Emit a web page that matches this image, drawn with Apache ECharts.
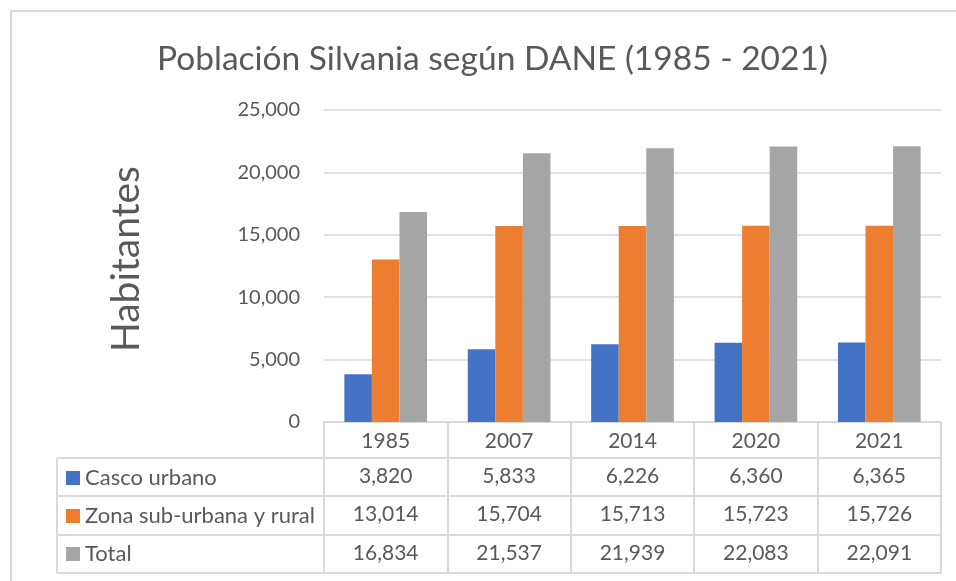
<!DOCTYPE html>
<html lang="es">
<head>
    <meta charset="UTF-8">
    <title>Población Silvania</title>
    <style>
        html, body { margin: 0; padding: 0; background: #fff; }
    </style>
</head>
<body>
<div id="main" style="width: 956px;height:581px;"></div>
<script src="https://cdn.jsdelivr.net/npm/echarts@6/dist/echarts.min.js"></script>
<script>
    var years = ['1985', '2007', '2014', '2020', '2021'];
    var casco = [3820, 5833, 6226, 6360, 6365];
    var rural = [13014, 15704, 15713, 15723, 15726];
    var total = [16834, 21537, 21939, 22083, 22091];
    var seriesNames = ['Casco urbano', 'Zona sub-urbana y rural', 'Total'];
    var colors = ['#4472C4', '#ED7D31', '#A5A5A5'];

    var FONT = 'Lato';
    var TXT = '#595959';
    var LINE = '#d9d9d9';

    // table geometry: grid bottom line sits at y=422, rows below it
    var gridTop = 110, axisY = 422, tableLeft = 57, plotLeft = 324, plotRight = 941;
    var rowOffsets = [0, 36, 74, 113, 151];

    function fmt(v) {
        return Number(v).toLocaleString('en-US');
    }

    var myChart = echarts.init(document.getElementById('main'));

    // one category axis per table row, offset below the plot
    var rows = [years, casco.map(fmt), rural.map(fmt), total.map(fmt), ['', '', '', '', '']];
    var xAxes = rows.map(function (labels, i) {
        var last = i === rows.length - 1;
        return {
            type: 'category',
            data: labels,
            position: 'bottom',
            offset: rowOffsets[i],
            axisLine: {show: true, lineStyle: {color: LINE, width: 2}},
            axisTick: {
                show: !last,
                interval: 0,
                length: last ? 0 : rowOffsets[i + 1] - rowOffsets[i],
                lineStyle: {color: LINE, width: 2}
            },
            axisLabel: {
                show: !last,
                interval: 0,
                margin: i === 0 ? 9 : 8,
                fontSize: 21,
                fontFamily: FONT,
                color: TXT
            },
            splitLine: {show: false}
        };
    });

    var lines = [];
    for (var r = 1; r < rowOffsets.length; r++) {
        lines.push({
            type: 'line',
            shape: {x1: tableLeft, y1: axisY + rowOffsets[r], x2: plotLeft, y2: axisY + rowOffsets[r]},
            style: {stroke: LINE, lineWidth: 2}
        });
    }
    lines.push({
        type: 'line',
        shape: {x1: tableLeft, y1: axisY + rowOffsets[1], x2: tableLeft, y2: axisY + rowOffsets[4]},
        style: {stroke: LINE, lineWidth: 2}
    });
    // chart area border
    lines.push({
        type: 'rect',
        shape: {x: 11, y: 11, width: 980, height: 620},
        style: {fill: null, stroke: LINE, lineWidth: 2},
        z: -1
    });

    var option = {
        animation: false,
        textStyle: {fontFamily: FONT},
        title: {
            text: 'Población Silvania según DANE (1985 - 2021)',
            left: 152,
            top: 37,
            textStyle: {fontSize: 33.5, fontWeight: 'normal', color: TXT, fontFamily: FONT}
        },
        legend: {
            data: seriesNames,
            orient: 'vertical',
            left: 61,
            top: 462,
            itemGap: 16,
            itemWidth: 14,
            itemHeight: 14,
            icon: 'rect',
            selectedMode: false,
            textStyle: {fontSize: 22, color: TXT, fontFamily: FONT}
        },
        grid: {
            left: plotLeft,
            right: 956 - plotRight,
            top: gridTop,
            bottom: 581 - axisY,
            containLabel: false
        },
        xAxis: xAxes,
        yAxis: {
            type: 'value',
            min: 0,
            max: 25000,
            interval: 5000,
            name: 'Habitantes',
            nameLocation: 'middle',
            nameRotate: 90,
            nameGap: 178,
            nameTextStyle: {fontSize: 39, color: TXT, fontFamily: FONT, padding: [0, 0, 0, 14]},
            axisLine: {show: false},
            axisTick: {show: false},
            axisLabel: {
                margin: 24,
                fontSize: 20,
                color: TXT,
                fontFamily: FONT,
                formatter: fmt
            },
            splitLine: {lineStyle: {color: LINE, width: 1.5}}
        },
        graphic: lines,
        series: [
            {name: seriesNames[0], type: 'bar', data: casco, itemStyle: {color: colors[0]}, barGap: '0%', barCategoryGap: '33%'},
            {name: seriesNames[1], type: 'bar', data: rural, itemStyle: {color: colors[1]}},
            {name: seriesNames[2], type: 'bar', data: total, itemStyle: {color: colors[2]}}
        ]
    };

    myChart.setOption(option);
</script>
</body>
</html>
